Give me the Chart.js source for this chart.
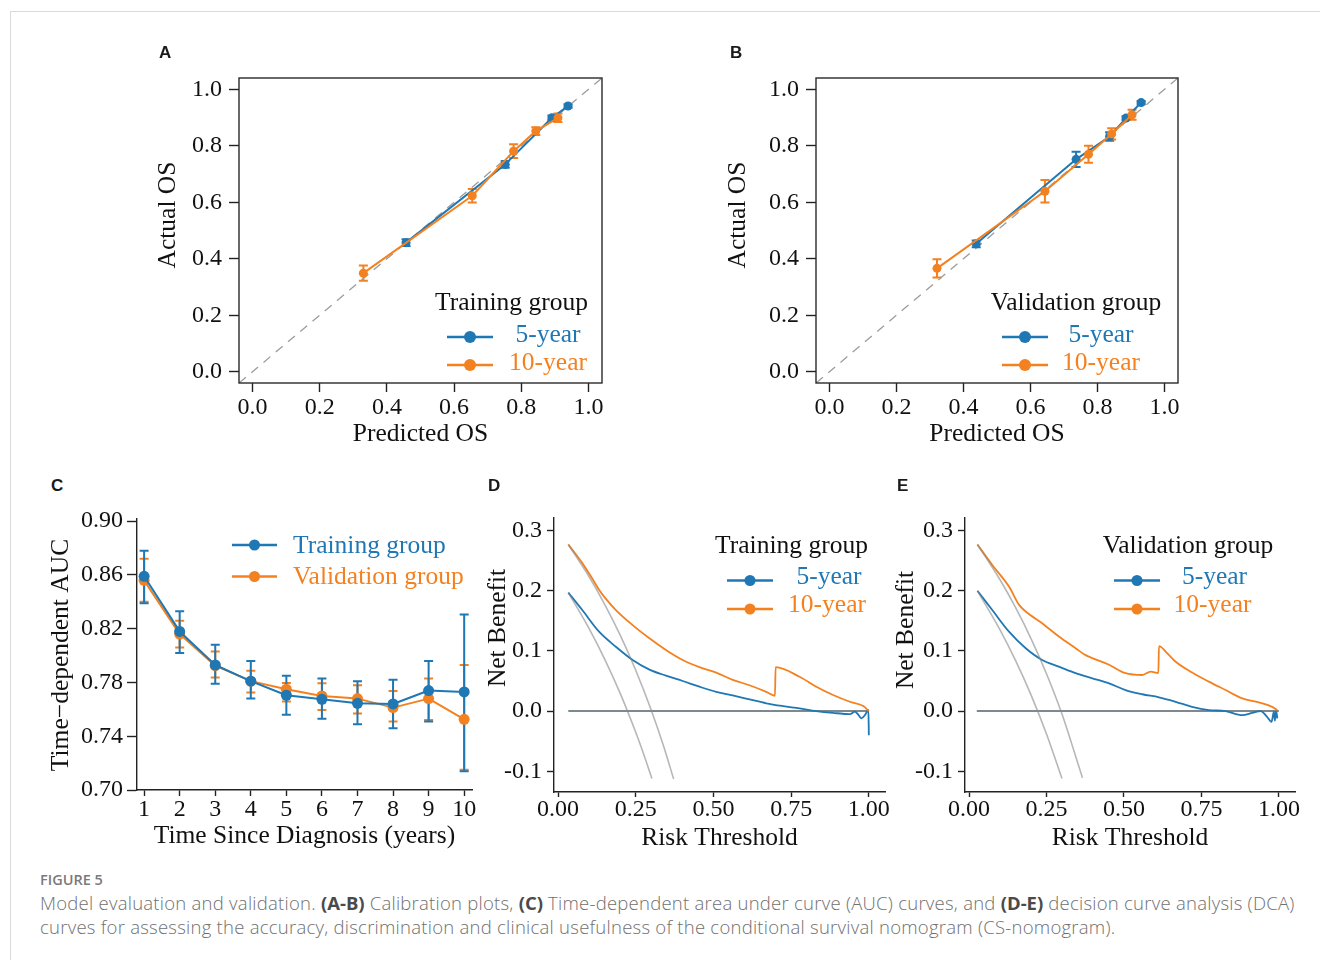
<!DOCTYPE html>
<html lang="en">
<head>
<meta charset="UTF-8">
<title>Figure 5 - Model evaluation and validation</title>
<script src="https://cdn.jsdelivr.net/npm/chart.js"></script>
<style>
  body { margin: 0; background: #fff; }
  #page { position: relative; width: 1320px; height: 960px; overflow: hidden; background: #fff; }
  #frame { position: absolute; left: 10px; top: 11px; right: 0; bottom: 0;
           border-top: 1px solid #dadada; border-left: 1px solid #dadada; }
  canvas { position: absolute; }
  .tag { position: absolute; font: bold 17px "Liberation Sans", Arial, sans-serif; color: #1a1a1a; line-height: 20px; }
  #figno { position: absolute; left: 40px; top: 870px; font: 600 14.5px "Open Sans", sans-serif;
           color: #7a7a7a; line-height: 20px; }
  #caption { position: absolute; left: 40px; top: 891px; width: 1280px; font: 300 18.5px "Open Sans", sans-serif;
             letter-spacing: 0.25px; color: #707070; line-height: 24px; white-space: nowrap; }
  #caption b { color: #4a4a4a; font-weight: 700; letter-spacing: 0; }
</style>
</head>
<body>
<div id="page">
  <div id="frame"></div>
  <canvas id="calTrain"></canvas>
  <canvas id="calValid"></canvas>
  <canvas id="auc"></canvas>
  <canvas id="dcaTrain"></canvas>
  <canvas id="dcaValid"></canvas>
  <div class="tag" style="left:159px;top:43px">A</div>
  <div class="tag" style="left:730px;top:43px">B</div>
  <div class="tag" style="left:51px;top:476px">C</div>
  <div class="tag" style="left:488px;top:476px">D</div>
  <div class="tag" style="left:897px;top:476px">E</div>
  <div id="figno">FIGURE 5</div>
  <div id="caption">Model evaluation and validation. <b>(A-B)</b> Calibration plots, <b>(C)</b> Time-dependent area under curve (AUC) curves, and <b>(D-E)</b> decision curve analysis (DCA)<br>curves for assessing the accuracy, discrimination and clinical usefulness of the conditional survival nomogram (CS-nomogram).</div>
</div>

<script>
const SERIF = '"Liberation Serif", "Times New Roman", serif';
const BLUE = '#1f77b4';
const ORANGE = '#f4811f';
const GREY = 'rgba(135,135,135,0.6)';
Chart.defaults.font.family = SERIF;

// ---- A: calibration, training group
const calTrain5Pred = [0.457, 0.752, 0.891, 0.939];
const calTrain5Obs = [0.457, 0.734, 0.899, 0.941];
const calTrain5Err = [0.012, 0.012, 0.008, 0.006];
const calTrain10Pred = [0.330, 0.654, 0.777, 0.843, 0.909];
const calTrain10Obs = [0.349, 0.623, 0.781, 0.852, 0.899];
const calTrain10Err = [0.027, 0.024, 0.024, 0.014, 0.015];

// ---- B: calibration, validation group
const calValid5Pred = [0.438, 0.736, 0.836, 0.885, 0.930];
const calValid5Obs = [0.453, 0.752, 0.833, 0.898, 0.953];
const calValid5Err = [0.012, 0.027, 0.015, 0.007, 0.006];
const calValid10Pred = [0.321, 0.643, 0.773, 0.842, 0.903];
const calValid10Obs = [0.366, 0.639, 0.770, 0.842, 0.910];
const calValid10Err = [0.032, 0.040, 0.030, 0.020, 0.018];

const calTicks = [0, 0.2, 0.4, 0.6, 0.8, 1.0];
const diagonal = [-0.04, 1.04];

// ---- C: time-dependent AUC
const years = [1, 2, 3, 4, 5, 6, 7, 8, 9, 10];
const aucTrain = [0.859, 0.818, 0.793, 0.781, 0.7705, 0.7675, 0.7645, 0.764, 0.774, 0.773];
const aucTrainLow = [0.839, 0.802, 0.779, 0.768, 0.756, 0.753, 0.749, 0.746, 0.751, 0.714];
const aucTrainHigh = [0.878, 0.833, 0.808, 0.796, 0.785, 0.783, 0.781, 0.782, 0.796, 0.8305];
const aucValid = [0.856, 0.816, 0.7925, 0.781, 0.775, 0.770, 0.768, 0.7613, 0.768, 0.7526];
const aucValidLow = [0.840, 0.806, 0.7837, 0.7725, 0.7658, 0.7595, 0.757, 0.751, 0.752, 0.715];
const aucValidHigh = [0.872, 0.826, 0.803, 0.7887, 0.7797, 0.7795, 0.778, 0.7737, 0.783, 0.793];
const aucTicks = [0.70, 0.74, 0.78, 0.82, 0.86, 0.90];

// ---- D: decision curves, training group
const dcaTrain5X = [0.033, 0.078, 0.132, 0.186, 0.240, 0.294, 0.347, 0.401, 0.455, 0.509, 0.562, 0.616, 0.670,
  0.724, 0.777, 0.831, 0.885, 0.939, 0.955, 0.966, 0.976, 0.987, 0.995, 0.9985, 1.0];
const dcaTrain5Y = [0.197, 0.168, 0.132, 0.107, 0.085, 0.069, 0.059, 0.050, 0.0405, 0.032, 0.026, 0.0195, 0.013,
  0.0083, 0.0045, 0.0, -0.003, -0.005, -0.001, -0.006, -0.012, -0.007, 0.0, 0.002, -0.04];
const dcaTrain10X = [0.033, 0.078, 0.111, 0.132, 0.150, 0.186, 0.240, 0.294, 0.347, 0.401, 0.455, 0.509, 0.562, 0.616,
  0.670, 0.698, 0.700, 0.777, 0.831, 0.885, 0.939, 0.982, 1.0];
const dcaTrain10Y = [0.277, 0.246, 0.2195, 0.2017, 0.189, 0.168, 0.143, 0.121, 0.1017, 0.085, 0.073, 0.064, 0.052, 0.043,
  0.032, 0.0255, 0.073, 0.057, 0.0405, 0.0267, 0.0155, 0.0083, 0.0];
const dcaTrainAll5X = [0.033, 0.10, 0.15, 0.20, 0.25, 0.275, 0.302];
const dcaTrainAll5Y = [0.197, 0.137, 0.0865, 0.0294, -0.0353, -0.071, -0.112];
const dcaTrainAll10X = [0.033, 0.10, 0.15, 0.20, 0.25, 0.30, 0.34, 0.372];
const dcaTrainAll10Y = [0.277, 0.2233, 0.1776, 0.1263, 0.068, 0.0014, -0.059, -0.113];
const dcaTrainNoneX = [0.033, 1.0];

// ---- E: decision curves, validation group
const dcaValid5X = [0.027, 0.075, 0.129, 0.183, 0.236, 0.290, 0.344, 0.398, 0.452, 0.505, 0.559, 0.613, 0.667,
  0.720, 0.774, 0.828, 0.882, 0.914, 0.941, 0.962, 0.976, 0.984, 0.987, 0.991, 0.995];
const dcaValid5Y = [0.2, 0.168, 0.132, 0.1045, 0.085, 0.074, 0.063, 0.0545, 0.046, 0.035, 0.028, 0.023, 0.0155,
  0.007, 0.0017, 0.0, -0.0067, -0.003, 0.0, -0.0095, -0.018, -0.001, -0.016, 0.0, -0.012];
const dcaValid10X = [0.027, 0.075, 0.129, 0.161, 0.183, 0.236, 0.290, 0.344, 0.376, 0.398, 0.452, 0.505, 0.559,
  0.586, 0.611, 0.613, 0.640, 0.667, 0.720, 0.774, 0.828, 0.882, 0.935, 0.978, 0.995];
const dcaValid10Y = [0.277, 0.243, 0.207, 0.177, 0.1655, 0.146, 0.124, 0.1045, 0.093, 0.088, 0.077, 0.063, 0.060,
  0.0655, 0.063, 0.108, 0.096, 0.082, 0.064, 0.049, 0.035, 0.021, 0.0145, 0.007, 0.0017];
const dcaValidAll5X = [0.027, 0.10, 0.15, 0.20, 0.25, 0.30];
const dcaValidAll5Y = [0.20, 0.135, 0.0842, 0.027, -0.038, -0.112];
const dcaValidAll10X = [0.027, 0.10, 0.15, 0.20, 0.25, 0.30, 0.33, 0.366];
const dcaValidAll10Y = [0.277, 0.2183, 0.1723, 0.1206, 0.062, -0.005, -0.052, -0.111];
const dcaValidNoneX = [0.025, 1.0];

const nbTicks = [-0.1, 0, 0.1, 0.2, 0.3];
const thrTicks = [0, 0.25, 0.5, 0.75, 1.0];

// ---------- helpers
const xy = (xs, ys) => xs.map((x, i) => ({x, y: ys[i]}));

function series(xs, ys, color, extra) {
  return Object.assign({
    data: xy(xs, ys), showLine: true, borderColor: color, backgroundColor: color,
    borderWidth: 2, pointRadius: 0, pointBorderWidth: 0, borderJoinStyle: 'round'
  }, extra);
}

// error bars drawn under the lines, through the chart's scales
Chart.register({
  id: 'errorBars',
  beforeDatasetsDraw(chart) {
    const {ctx, scales: {x, y}} = chart;
    const sets = chart.data.datasets.slice().sort((a, b) => (b.order || 0) - (a.order || 0));
    sets.forEach(ds => {
      if (!ds.errLow) return;
      ctx.save();
      ctx.strokeStyle = ds.borderColor;
      ctx.lineWidth = 2;
      ds.data.forEach((p, i) => {
        const px = x.getPixelForValue(p.x);
        const lo = y.getPixelForValue(ds.errLow[i]);
        const hi = y.getPixelForValue(ds.errHigh[i]);
        const c = ds.capHalf || 4;
        ctx.beginPath();
        ctx.moveTo(px, lo); ctx.lineTo(px, hi);
        ctx.moveTo(px - c, lo); ctx.lineTo(px + c, lo);
        ctx.moveTo(px - c, hi); ctx.lineTo(px + c, hi);
        ctx.stroke();
      });
      ctx.restore();
    });
  }
});

// y titles and legends, given in page coordinates
function overlay(spec, rect) {
  return {
    id: 'overlay',
    afterDraw(chart) {
      const ctx = chart.ctx;
      if (spec.boxed) {
        const a = chart.chartArea;
        ctx.save();
        ctx.strokeStyle = '#2a2a2a';
        ctx.lineWidth = 1.4;
        ctx.strokeRect(a.left, a.top, a.right - a.left, a.bottom - a.top);
        ctx.restore();
      }
      ctx.save();
      ctx.translate(-rect.left, -rect.top);
      (spec.lines || []).forEach(l => {
        ctx.strokeStyle = l.color;
        ctx.fillStyle = l.color;
        ctx.lineWidth = 2.5;
        ctx.beginPath(); ctx.moveTo(l.x1, l.y); ctx.lineTo(l.x2, l.y); ctx.stroke();
        ctx.beginPath(); ctx.arc((l.x1 + l.x2) / 2, l.y, l.r || 5.5, 0, Math.PI * 2); ctx.fill();
      });
      (spec.texts || []).forEach(t => {
        ctx.save();
        ctx.translate(t.x, t.y);
        if (t.rot) ctx.rotate(-Math.PI / 2);
        ctx.font = (t.size || 25.5) + 'px ' + SERIF;
        ctx.fillStyle = t.color || '#111';
        ctx.textAlign = t.align || 'center';
        ctx.textBaseline = t.rot ? 'middle' : 'alphabetic';
        ctx.fillText(t.text, 0, 0);
        ctx.restore();
      });
      ctx.restore();
    }
  };
}

function axis(o) {
  return {
    type: 'linear', min: o.min, max: o.max,
    afterBuildTicks: s => { s.ticks = o.ticks.map(v => ({value: v})); },
    ticks: {
      autoSkip: false, maxRotation: 0, padding: o.pad, color: '#111',
      font: {family: SERIF, size: 24}, callback: v => Number(v).toFixed(o.digits)
    },
    grid: {display: true, drawOnChartArea: false, drawTicks: true, tickLength: o.tl,
           color: '#222', tickColor: '#222', tickWidth: 1.4},
    border: {display: o.border, color: '#222', width: 1.4},
    title: o.title
      ? {display: true, text: o.title, color: '#111', font: {family: SERIF, size: 25.5}, padding: {top: 0, bottom: 0}}
      : {display: false},
    titleBase: o.titleBase
  };
}

function panel(id, rect, area, x, y, datasets, spec) {
  const cv = document.getElementById(id);
  cv.width = rect.w; cv.height = rect.h;
  cv.style.left = rect.left + 'px';
  cv.style.top = rect.top + 'px';
  const bottom = rect.top + rect.h;
  x.afterFit = s => { s.height = bottom - area.b; s.paddingLeft = 0; s.paddingRight = 0; };
  y.afterFit = s => { s.width = area.l - rect.left; s.paddingTop = 0; s.paddingBottom = 0; };
  if (x.title.display) x.title.padding.bottom = bottom - x.titleBase - 6.7;
  return new Chart(cv, {
    type: 'scatter',
    data: {datasets},
    options: {
      responsive: false, animation: false, events: [],
      layout: {padding: {top: area.t - rect.top, right: rect.left + rect.w - area.r, left: 0, bottom: 0}},
      plugins: {legend: {display: false}, tooltip: {enabled: false}},
      scales: {x, y}
    },
    plugins: [overlay(spec, rect)]
  });
}

function calibration(id, rect, area, p5, o5, e5, p10, o10, e10, group) {
  const diag = series(diagonal, diagonal, '#9c9c9c', {borderWidth: 1.3, borderDash: [9, 7], order: 2});
  const s5 = series(p5, o5, BLUE, {
    pointRadius: 4.5, order: 1,
    errLow: o5.map((v, i) => v - e5[i]), errHigh: o5.map((v, i) => v + e5[i]), capHalf: 4.5
  });
  const s10 = series(p10, o10, ORANGE, {
    pointRadius: 4.5, order: 0,
    errLow: o10.map((v, i) => v - e10[i]), errHigh: o10.map((v, i) => v + e10[i]), capHalf: 4.5
  });
  const x = axis({min: -0.04, max: 1.04, ticks: calTicks, digits: 1, tl: 9, pad: 1.5, border: false,
                  title: 'Predicted OS', titleBase: 443});
  const y = axis({min: -0.04, max: 1.04, ticks: calTicks, digits: 1, tl: 10, pad: 7, border: false});
  const r = area.r, b = area.b;
  panel(id, rect, area, x, y, [diag, s5, s10], {
    boxed: true,
    texts: [
      {text: 'Actual OS', x: rect.left + 23, y: 215, rot: true},
      {text: group.title, x: r - group.dx, y: b - 73},
      {text: '5-year', x: r - group.lx, y: b - 41, color: BLUE},
      {text: '10-year', x: r - group.lx, y: b - 13, color: ORANGE}
    ],
    lines: [
      {x1: r - group.ly - 23, x2: r - group.ly + 23, y: b - 46, color: BLUE, r: 6},
      {x1: r - group.ly - 23, x2: r - group.ly + 23, y: b - 18, color: ORANGE, r: 6}
    ]
  });
}

// ---------- A and B
calibration('calTrain', {left: 145, top: 60, w: 475, h: 400}, {l: 239, t: 78, r: 602, b: 383},
  calTrain5Pred, calTrain5Obs, calTrain5Err, calTrain10Pred, calTrain10Obs, calTrain10Err,
  {title: 'Training group', dx: 90.5, lx: 54, ly: 132});
calibration('calValid', {left: 715, top: 60, w: 480, h: 400}, {l: 816, t: 78, r: 1178, b: 383},
  calValid5Pred, calValid5Obs, calValid5Err, calValid10Pred, calValid10Obs, calValid10Err,
  {title: 'Validation group', dx: 102, lx: 77, ly: 153});

// ---------- C
panel('auc', {left: 35, top: 500, w: 450, h: 360}, {l: 137, t: 518.5, r: 472, b: 790},
  axis({min: 0.8, max: 10.22, ticks: years, digits: 0, tl: 6, pad: -1, border: true,
        title: 'Time Since Diagnosis (years)', titleBase: 845}),
  axis({min: 0.70, max: 0.902, ticks: aucTicks, digits: 2, tl: 10, pad: 4, border: true}),
  [
    series(years, aucTrain, BLUE, {pointRadius: 5.5, order: 0, errLow: aucTrainLow, errHigh: aucTrainHigh, capHalf: 4.5}),
    series(years, aucValid, ORANGE, {pointRadius: 5.5, order: 1, errLow: aucValidLow, errHigh: aucValidHigh, capHalf: 4.5})
  ],
  {
    texts: [
      {text: 'Time\u2212dependent AUC', x: 61, y: 655, rot: true},
      {text: 'Training group', x: 293, y: 553, color: BLUE, align: 'left'},
      {text: 'Validation group', x: 293, y: 584, color: ORANGE, align: 'left'}
    ],
    lines: [
      {x1: 232, x2: 277, y: 545, color: BLUE},
      {x1: 232, x2: 277, y: 576.5, color: ORANGE}
    ]
  });

// ---------- D and E
function dca(id, rect, area, x5, y5, x10, y10, ax5, ay5, ax10, ay10, noneX, leg) {
  const zero = noneX.map(() => 0);
  const smooth = {cubicInterpolationMode: 'monotone'};
  panel(id, rect, area,
    axis({min: -0.013, max: 1.052, ticks: thrTicks, digits: 2, tl: 5, pad: -1.5, border: true,
          title: 'Risk Threshold', titleBase: 847}),
    axis({min: -0.1345, max: 0.321, ticks: nbTicks, digits: 1, tl: 7, pad: 5, border: true}),
    [
      series(ax5, ay5, GREY, Object.assign({borderWidth: 1.6, order: 0}, smooth)),
      series(ax10, ay10, GREY, Object.assign({borderWidth: 1.6, order: 0}, smooth)),
      series(x10, y10, ORANGE, Object.assign({borderWidth: 1.8, order: 1}, smooth)),
      series(x5, y5, BLUE, Object.assign({borderWidth: 1.8, order: 2}, smooth)),
      series(noneX, zero, '#52626a', {borderWidth: 1.5, order: 3})
    ],
    {
      texts: [
        {text: 'Net Benefit', x: leg.yx, y: leg.yy, rot: true},
        {text: leg.title, x: leg.tx, y: 553},
        {text: '5-year', x: leg.lx, y: 584, color: BLUE},
        {text: '10-year', x: leg.lx - 2, y: 612, color: ORANGE}
      ],
      lines: [
        {x1: leg.mx - 23, x2: leg.mx + 23, y: 580.5, color: BLUE},
        {x1: leg.mx - 23, x2: leg.mx + 23, y: 609, color: ORANGE}
      ]
    });
}

dca('dcaTrain', {left: 480, top: 500, w: 420, h: 360}, {l: 554, t: 518, r: 885, b: 792},
  dcaTrain5X, dcaTrain5Y, dcaTrain10X, dcaTrain10Y,
  dcaTrainAll5X, dcaTrainAll5Y, dcaTrainAll10X, dcaTrainAll10Y, dcaTrainNoneX,
  {yx: 498, yy: 628, title: 'Training group', tx: 791.5, lx: 829, mx: 750});
dca('dcaValid', {left: 890, top: 500, w: 430, h: 360}, {l: 965, t: 518, r: 1295, b: 792},
  dcaValid5X, dcaValid5Y, dcaValid10X, dcaValid10Y,
  dcaValidAll5X, dcaValidAll5Y, dcaValidAll10X, dcaValidAll10Y, dcaValidNoneX,
  {yx: 906, yy: 630, title: 'Validation group', tx: 1188, lx: 1214.5, mx: 1137});
</script>
</body>
</html>
